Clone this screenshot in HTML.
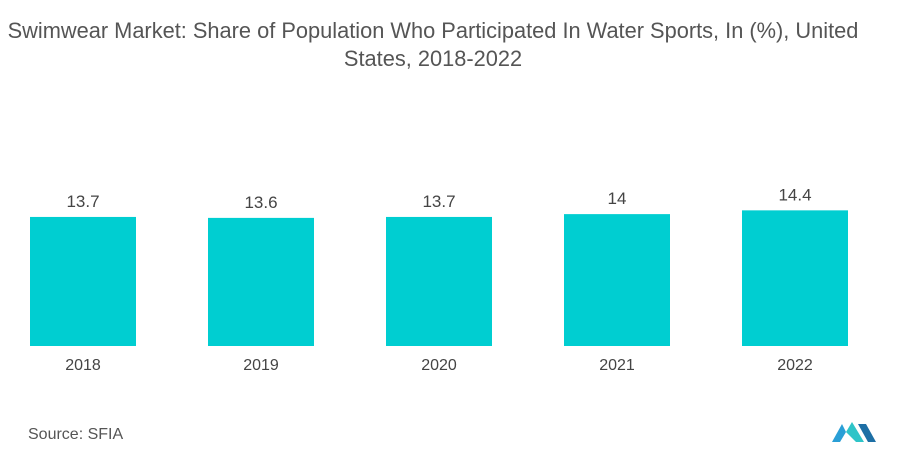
<!DOCTYPE html>
<html><head><meta charset="utf-8"><style>
body{margin:0;width:900px;height:459px;background:#fff;font-family:"Liberation Sans",sans-serif;overflow:hidden;position:relative}
#title{position:absolute;left:0;top:17px;width:866px;text-align:center;font-size:21.8px;line-height:28px;color:#555;white-space:nowrap}
#source{position:absolute;left:28px;top:426px;font-size:16px;color:#555}
svg{position:absolute;left:0;top:0}
</style></head><body>
<div id="title">Swimwear Market: Share of Population Who Participated In Water Sports, In (%), United<br>States, 2018-2022</div>
<svg id="chart" width="900" height="459"></svg>
<div id="source">Source: SFIA</div>
<svg width="900" height="459">
<polygon points="832,442 842,424 846,432 840,442" fill="#2a9fd6"/>
<polygon points="846,432 852,422 864,442 856,442" fill="#2ec4c8"/>
<polygon points="858,424 866,424 876,442 868,442" fill="#1d6fa5"/>
</svg>
<script>
const categories=["2018","2019","2020","2021","2022"];
const values=[13.7,13.6,13.7,14,14.4];
const labels=["13.7","13.6","13.7","14","14.4"];
const svg=document.getElementById('chart');
const NS='http://www.w3.org/2000/svg';
const baseY=346, scale=9.42, x0=30, step=178, bw=106;
function xPos(i){return x0+i*step;}
function yPos(v){return baseY-v*scale;}
categories.forEach((c,i)=>{
  const r=document.createElementNS(NS,'rect');
  
  
  r.setAttribute('x',xPos(i));r.setAttribute('y',yPos(values[i]));
  r.setAttribute('width',bw);r.setAttribute('height',baseY-yPos(values[i]));
  r.setAttribute('fill','#00ced1');svg.appendChild(r);
  const t=document.createElementNS(NS,'text');
  
  
  t.setAttribute('x',xPos(i)+bw/2);t.setAttribute('y',yPos(values[i])-10);
  t.setAttribute('text-anchor','middle');t.setAttribute('font-size','17');t.setAttribute('fill','#444');
  t.setAttribute('font-family','Liberation Sans, sans-serif');
  t.textContent=labels[i];svg.appendChild(t);
  const a=document.createElementNS(NS,'text');
  
  
  a.setAttribute('x',xPos(i)+bw/2);a.setAttribute('y',370);
  a.setAttribute('text-anchor','middle');a.setAttribute('font-size','16');a.setAttribute('fill','#444');
  a.setAttribute('font-family','Liberation Sans, sans-serif');
  a.textContent=c;svg.appendChild(a);
});
</script>
</body></html>
